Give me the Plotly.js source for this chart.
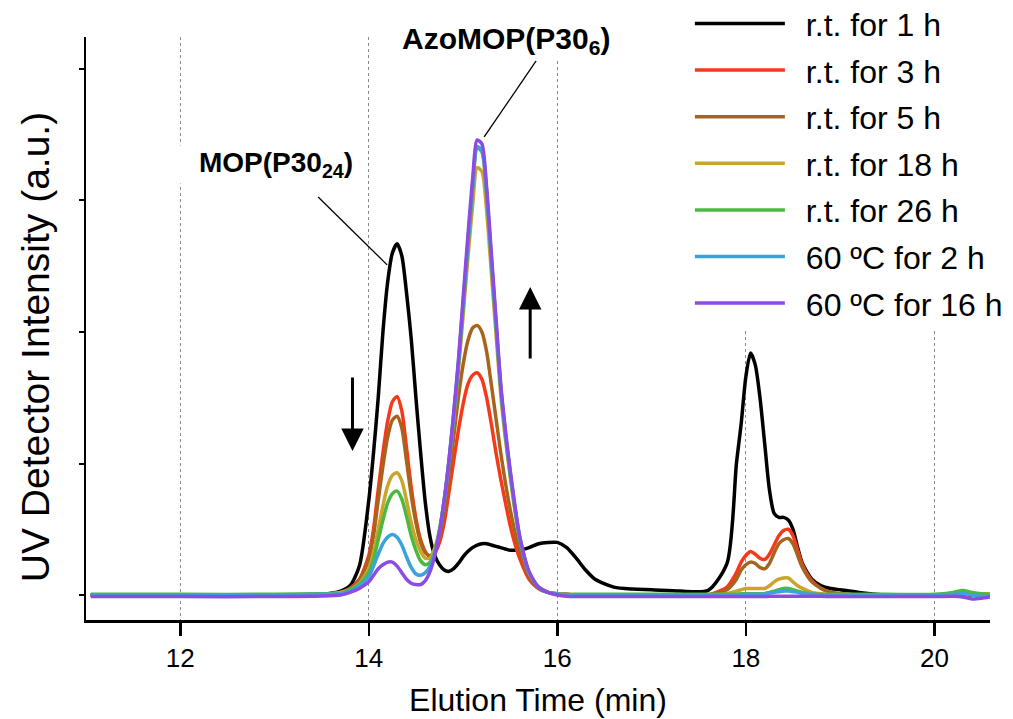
<!DOCTYPE html>
<html>
<head>
<meta charset="utf-8">
<script src="https://cdn.plot.ly/plotly-3.0.1.min.js"></script>
<style>html,body{margin:0;padding:0;background:#fff;}#chart{width:1013px;height:719px;}</style>
</head>
<body>
<div id="chart"></div>
<script>
// Elution time (min) sampling points shared by all traces
const elutionTime = [11.05, 12, 13, 13.5, 13.7, 13.8, 13.9, 14.0, 14.05, 14.1, 14.15, 14.2, 14.25, 14.3, 14.35, 14.4, 14.45, 14.5, 14.55, 14.6, 14.65, 14.7, 14.75, 14.8, 14.85, 14.9, 14.95, 15.0, 15.05, 15.1, 15.15, 15.2, 15.25, 15.3, 15.35, 15.4, 15.45, 15.5, 15.55, 15.6, 15.7, 15.8, 15.9, 16.0, 16.1, 16.2, 16.3, 16.4, 16.6, 16.8, 17.0, 17.3, 17.6, 17.8, 17.9, 17.95, 18.0, 18.05, 18.1, 18.15, 18.2, 18.25, 18.3, 18.35, 18.4, 18.45, 18.5, 18.55, 18.6, 18.7, 18.8, 18.9, 19.0, 19.2, 19.5, 20.0, 20.2, 20.3, 20.4, 20.5, 20.59];

const seriesNames = ['r.t. for 1 h', 'r.t. for 3 h', 'r.t. for 5 h', 'r.t. for 18 h', 'r.t. for 26 h', '60 ºC for 2 h', '60 ºC for 16 h'];

const rt1h = [0, 0, 0, 0.005, 0.03, 0.07, 0.22,
  0.72, 1.08, 1.5, 2.0, 2.38, 2.6, 2.67,
  2.58, 2.3, 1.95, 1.5, 1.08, 0.7, 0.44,
  0.3, 0.23, 0.19, 0.18, 0.2, 0.24, 0.29,
  0.33, 0.36, 0.38, 0.39, 0.39, 0.38, 0.37,
  0.36, 0.35, 0.34, 0.34, 0.34,
  0.36, 0.39, 0.40, 0.40,
  0.36, 0.28, 0.19, 0.12,
  0.06, 0.045, 0.04, 0.03, 0.035,
  0.24, 1.0, 1.3, 1.66, 1.84,
  1.75, 1.5, 1.15, 0.8, 0.62, 0.59, 0.59,
  0.57, 0.5, 0.36, 0.24, 0.12, 0.07, 0.05,
  0.04, 0.02, 0.0, 0.0, 0.0, 0.01, 0.0, 0.0, 0.0];

const rt3h = [0, 0, 0, 0.005, 0.02, 0.05, 0.12,
  0.3, 0.5, 0.8, 1.08, 1.32, 1.47, 1.51,
  1.4, 1.12, 0.82, 0.58, 0.42, 0.33, 0.29,
  0.32, 0.4, 0.55, 0.78, 1.02, 1.25, 1.45,
  1.6, 1.67, 1.69, 1.64, 1.5, 1.3, 1.08,
  0.88, 0.7, 0.53, 0.39, 0.28,
  0.12, 0.05, 0.02, 0.01,
  0.005, 0, 0, 0,
  0, 0, 0, 0, 0,
  0.06, 0.17, 0.25, 0.3, 0.33,
  0.31, 0.28, 0.27, 0.31, 0.38, 0.45, 0.49,
  0.5, 0.45, 0.34, 0.23, 0.11, 0.05, 0.02,
  0.01, 0, 0, 0, 0, 0, 0, 0, 0];

const rt5h = [0, 0, 0, 0.005, 0.02, 0.05, 0.11,
  0.27, 0.45, 0.72, 0.98, 1.2, 1.33, 1.36,
  1.27, 1.02, 0.76, 0.55, 0.4, 0.32, 0.3,
  0.34, 0.45, 0.63, 0.9, 1.2, 1.5, 1.75,
  1.93, 2.03, 2.05, 2.0, 1.85, 1.6, 1.34,
  1.08, 0.85, 0.65, 0.48, 0.34,
  0.14, 0.05, 0.02, 0.01,
  0.005, 0, 0, 0,
  0, 0, 0, 0, 0,
  0.04, 0.12, 0.19, 0.23, 0.25,
  0.24, 0.21, 0.2, 0.24, 0.32, 0.39, 0.42,
  0.43, 0.39, 0.3, 0.21, 0.1, 0.05, 0.02,
  0.01, 0, 0, 0, 0, 0.01, 0.01, 0.01, 0.01];

const rt18h = [0, 0, 0, 0.005, 0.02, 0.04, 0.09,
  0.2, 0.32, 0.5, 0.68, 0.83, 0.91, 0.93,
  0.87, 0.72, 0.55, 0.42, 0.33, 0.28, 0.28,
  0.36, 0.5, 0.72, 1.0, 1.33, 1.7, 2.12,
  2.55, 2.95, 3.25, 3.22, 2.92, 2.45, 1.98,
  1.52, 1.18, 0.9, 0.64, 0.43,
  0.17, 0.06, 0.02, 0.01,
  0, 0, 0, 0,
  0, 0, 0, 0, 0,
  0.01, 0.03, 0.04, 0.05, 0.05,
  0.05, 0.05, 0.05, 0.07, 0.1, 0.12, 0.13,
  0.13, 0.1, 0.07, 0.05, 0.02, 0.01, 0,
  0, 0, 0, 0, 0.01, 0.02, 0.01, 0.01, 0.01];

const rt26h = [0.005, 0.005, 0.005, 0.01, 0.01, 0.04, 0.08,
  0.17, 0.27, 0.42, 0.57, 0.7, 0.77, 0.79,
  0.73, 0.6, 0.45, 0.34, 0.26, 0.23, 0.25,
  0.33, 0.49, 0.72, 1.01, 1.35, 1.74, 2.18,
  2.63, 3.07, 3.4, 3.37, 3.05, 2.55, 2.05,
  1.57, 1.22, 0.92, 0.66, 0.44,
  0.17, 0.06, 0.02, 0.01,
  0.005, 0.005, 0.005, 0.005,
  0.005, 0.005, 0.005, 0.005, 0.005,
  0.005, 0.005, 0.01, 0.01, 0.01,
  0.01, 0.01, 0.01, 0.02, 0.03, 0.04, 0.05,
  0.05, 0.04, 0.03, 0.02, 0.01, 0.005, 0.005,
  0.005, 0.005, 0.005, 0.005, 0.02, 0.035, 0.02, 0.01, 0.005];

const c60_2h = [0, 0, 0, 0.005, 0.01, 0.03, 0.07,
  0.14, 0.22, 0.31, 0.39, 0.44, 0.46, 0.44,
  0.38, 0.29, 0.21, 0.16, 0.15, 0.17, 0.22,
  0.32, 0.48, 0.72, 1.02, 1.37, 1.76, 2.22,
  2.67, 3.1, 3.41, 3.38, 3.06, 2.56, 2.06,
  1.58, 1.23, 0.93, 0.67, 0.44,
  0.17, 0.06, 0.02, 0.005,
  0, 0, 0, 0,
  0, 0, 0, 0, 0,
  0, 0, 0, 0.005, 0.005,
  0.005, 0.005, 0.01, 0.015, 0.02, 0.025, 0.03,
  0.03, 0.025, 0.02, 0.01, 0.005, 0, 0,
  0, 0, 0, 0, 0.005, 0.01, 0, -0.01, -0.01];

const c60_16h = [-0.012, -0.012, -0.012, -0.008, 0.0, 0.02, 0.05,
  0.1, 0.15, 0.2, 0.23, 0.25, 0.25, 0.22,
  0.17, 0.12, 0.09, 0.08, 0.08, 0.11, 0.18,
  0.3, 0.48, 0.72, 1.02, 1.38, 1.78, 2.25,
  2.72, 3.15, 3.46, 3.43, 3.1, 2.6, 2.1,
  1.6, 1.25, 0.95, 0.68, 0.45,
  0.18, 0.06, 0.02, 0.0,
  -0.01, -0.012, -0.012, -0.012,
  -0.012, -0.012, -0.012, -0.012, -0.012,
  -0.012, -0.012, -0.012, -0.012, -0.012,
  -0.012, -0.012, -0.012, -0.01, -0.01, -0.01, -0.01,
  -0.01, -0.01, -0.01, -0.01, -0.01, -0.01, -0.012,
  -0.012, -0.012, -0.012, -0.012, -0.01, -0.015, -0.03, -0.025, -0.015];

const seriesValues = [rt1h, rt3h, rt5h, rt18h, rt26h, c60_2h, c60_16h];
const seriesColors = ['#000000', '#f5391a', '#a8641c', '#c9a52a', '#4cb840', '#3aa2dc', '#8a4ce2'];

// Text labels
const peakLabels = ['<b>MOP(P30<sub>24</sub>)</b>', '<b>AzoMOP(P30<sub>6</sub>)</b>'];
const xTitle = 'Elution Time (min)';
const yTitle = 'UV Detector Intensity (a.u.)';
const xTicks = [12, 14, 16, 18, 20];
const yTicks = [0, 1, 2, 3, 4];

const traces = seriesValues.map((vals, i) => ({
  type: 'scatter',
  mode: 'lines',
  x: elutionTime,
  y: vals,
  name: '\u2002' + seriesNames[i],
  legendgroup: 'g' + i,
  line: {color: seriesColors[i], width: 3.5, shape: 'spline', smoothing: 0.7},
  hoverinfo: 'x+y+name'
}));

const font = 'Liberation Sans, Arial, Helvetica, sans-serif';

const layout = {
  width: 1013, height: 719,
  margin: {l: 86, r: 23, t: 37, b: 99, autoexpand: false},
  paper_bgcolor: '#ffffff', plot_bgcolor: '#ffffff',
  font: {family: font, color: '#000'},
  showlegend: true,
  legend: {
    x: 0.668, xanchor: 'left', y: 1.07, yanchor: 'top',
    bgcolor: '#ffffff', borderwidth: 0,
    font: {size: 32, family: font, color: '#000'},
    itemwidth: 90, traceorder: 'grouped', tracegroupgap: 2
  },
  xaxis: {
    range: [11.0, 20.59],
    tickvals: xTicks, ticktext: xTicks.map(String),
    ticks: 'outside', ticklen: 13, tickwidth: 2.5, tickcolor: '#000',
    showline: true, linecolor: '#000', linewidth: 2.5,
    showgrid: true, gridcolor: '#8a8a8a', griddash: 'dot', gridwidth: 1,
    zeroline: false,
    tickfont: {size: 26, family: font, color: '#000'},
    title: {text: xTitle, font: {size: 32, family: font, color: '#000'}, standoff: 17}
  },
  yaxis: {
    range: [-0.19, 4.243],
    tickvals: yTicks, showticklabels: false,
    ticks: 'outside', ticklen: 5, tickwidth: 2, tickcolor: '#000',
    showline: true, linecolor: '#000', linewidth: 2.5,
    showgrid: false, zeroline: false
  },
  shapes: [
    {type: 'line', xref: 'x', yref: 'y', x0: 13.463, y0: 3.027, x1: 14.195, y1: 2.51, line: {color: '#000', width: 1.3}},
    {type: 'line', xref: 'x', yref: 'y', x0: 15.775, y0: 4.061, x1: 15.224, y1: 3.483, line: {color: '#000', width: 1.3}}
  ],
  annotations: [
    {x: -0.0564, y: 0.468, xref: 'paper', yref: 'paper', text: yTitle, textangle: -90, showarrow: false,
     xanchor: 'center', yanchor: 'middle', font: {size: 39, family: font, color: '#000'}},
    {x: 12.81, y: 3.27, xref: 'x', yref: 'y', text: peakLabels[0], showarrow: false, width: 192, align: 'right',
     font: {size: 28, family: font, color: '#000'}, bgcolor: '#ffffff'},
    {x: 15.457, y: 4.22, xref: 'x', yref: 'y', text: peakLabels[1], showarrow: false,
     font: {size: 30, family: font, color: '#000'}, bgcolor: '#ffffff'},
    {x: 13.827, y: 1.095, ax: 13.827, ay: 1.665, xref: 'x', yref: 'y', axref: 'x', ayref: 'y',
     text: '', showarrow: true, arrowhead: 2, arrowsize: 1.5, arrowwidth: 3, arrowcolor: '#000', standoff: 0},
    {x: 15.712, y: 2.342, ax: 15.712, ay: 1.787, xref: 'x', yref: 'y', axref: 'x', ayref: 'y',
     text: '', showarrow: true, arrowhead: 2, arrowsize: 1.5, arrowwidth: 3, arrowcolor: '#000', standoff: 0}
  ]
};

Plotly.newPlot('chart', traces, layout, {displayModeBar: false, staticPlot: true});
</script>
</body>
</html>
